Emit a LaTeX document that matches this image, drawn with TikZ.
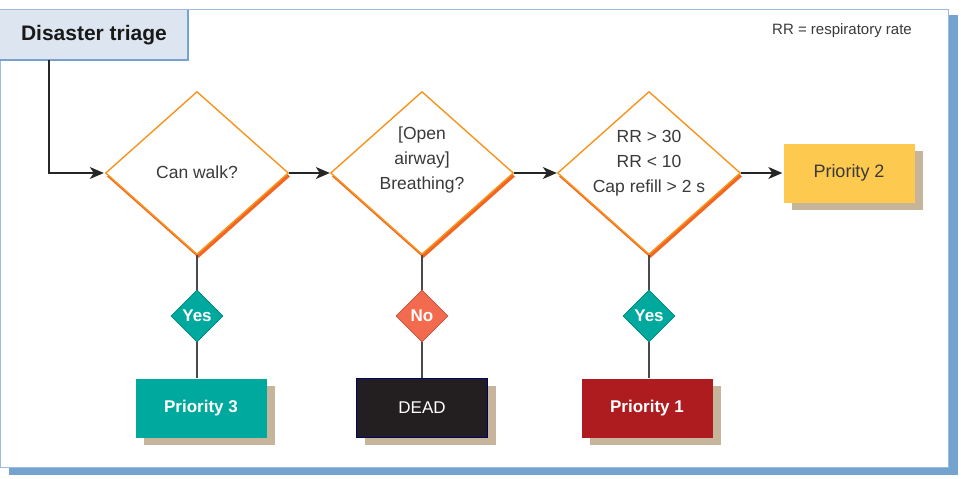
\documentclass[tikz,border=0pt]{standalone}
\usepackage{fontspec}
\setmainfont{Liberation Sans}
\usetikzlibrary{shapes.geometric,arrows.meta}
\definecolor{frameblue}{HTML}{74A3CF}
\definecolor{frameline}{HTML}{9DBCDD}
\definecolor{titlefill}{HTML}{DDE6F0}
\definecolor{dorange}{HTML}{F7941D}
\definecolor{dshadow}{HTML}{F26522}
\definecolor{teal}{HTML}{00A99D}
\definecolor{tealdark}{HTML}{00877D}
\definecolor{noorange}{HTML}{F26B4F}
\definecolor{nodark}{HTML}{C9503A}
\definecolor{tan}{HTML}{C6B59A}
\definecolor{yellowbox}{HTML}{FDC94E}
\definecolor{redbox}{HTML}{AE1C20}
\definecolor{deadbox}{HTML}{231F20}
\definecolor{textgray}{HTML}{3A3A3A}
\definecolor{linegray}{HTML}{4A4A4A}
\tikzset{
  bigdiamond/.style={diamond, minimum width=183pt, minimum height=163pt, inner sep=0pt, draw=dorange, fill=white, line width=1.4pt},
  bigshadow/.style={diamond, minimum width=183pt, minimum height=163pt, inner sep=0pt, fill=dshadow},
  dtext/.style={align=center, text=textgray, font=\fontsize{17.5}{25}\selectfont},
  smalldiamond/.style={diamond, minimum width=52pt, minimum height=52pt, inner sep=0pt, line width=0.8pt, text=white, font=\bfseries\fontsize{17}{20}\selectfont},
  yesd/.style={smalldiamond, fill=teal, draw=tealdark},
  nod/.style={smalldiamond, fill=noorange, draw=nodark},
  resbox/.style={rectangle, minimum width=131pt, minimum height=59pt, inner sep=0pt, font=\bfseries\fontsize{17}{20}\selectfont},
  shadowbox/.style={rectangle, minimum width=131pt, minimum height=59pt, inner sep=0pt, fill=tan},
  flow/.style={draw=black!85, line width=1.1pt, -{Stealth[length=14pt,width=12pt,inset=4pt]}},
  stem/.style={draw=linegray, line width=1.2pt}
}
\begin{document}
\begin{tikzpicture}[x=1pt,y=-1pt]
\useasboundingbox (0,0) rectangle (961,479);
% frame
\fill[frameblue] (9,15) rectangle (958,475);
\filldraw[fill=white, draw=frameline, line width=1pt] (0.5,9) rectangle (948,467);
% title
\node[rectangle, fill=titlefill, minimum width=188pt, minimum height=50pt, inner sep=0pt,
      font=\bfseries\fontsize{21}{24}\selectfont, text=black!90] (title) at (94,35) {Disaster triage};
\draw[frameblue, line width=2pt] (title.north east) -- (title.south east) -- (title.south west);
% legend
\node[font=\fontsize{15}{18}\selectfont, text=textgray] (legend) at (842,31) {RR = respiratory rate};
% diamond shadows
\node[bigshadow] (s1) at (198.5,176.5) {};
\node[bigshadow] (s2) at (423.5,176.5) {};
\node[bigshadow] (s3) at (650.5,176.5) {};
% diamonds
\node[bigdiamond] (d1) at (197,173) {};
\node[bigdiamond] (d2) at (422,173) {};
\node[bigdiamond] (d3) at (649,173) {};
\node[dtext] (t1) at (197,172) {Can walk?};
\node[dtext] (t2) at (422,160) {[Open\\airway]\\Breathing?};
\node[dtext] (t3) at (649,163) {RR > 30\\RR < 10\\Cap refill > 2 s};
% priority 2
\node[shadowbox] (p2s) at (857,180) {};
\node[resbox, fill=yellowbox, text=textgray, font=\fontsize{18}{20}\selectfont] (p2) at (849,173) {Priority 2};
% small diamonds
\node[yesd] (y1) at (197,316) {Yes};
\node[nod] (n2) at (422,316) {No};
\node[yesd] (y3) at (649,316) {Yes};
% result boxes
\node[shadowbox] (p3s) at (209,415) {};
\node[shadowbox] (deads) at (430,415) {};
\node[shadowbox] (p1s) at (655,415) {};
\node[resbox, fill=teal, text=white] (p3) at (201,408) {Priority 3};
\node[resbox, fill=deadbox, draw=blue!40!black, line width=0.8pt, text=white, font=\fontsize{17}{20}\selectfont] (dead) at (422,408) {DEAD};
\node[resbox, fill=redbox, text=white] (p1) at (647,408) {Priority 1};
% connectors
\coordinate (tstart) at (49,60);
\draw[flow, shorten >=1pt] (tstart) |- (d1.west);
\draw[flow] (d1.east) -- (d2.west);
\draw[flow] (d2.east) -- (d3.west);
\draw[flow, shorten >=1pt] (d3.east) -- (p2.west);
\draw[stem] (d1.south) -- (y1.north);
\draw[stem] (y1.south) -- (y1.south |- p3.north);
\draw[stem] (d2.south) -- (n2.north);
\draw[stem] (n2.south) -- (dead.north);
\draw[stem] (d3.south) -- (y3.north);
\draw[stem] (y3.south) -- (y3.south |- p1.north);
\end{tikzpicture}
\end{document}
